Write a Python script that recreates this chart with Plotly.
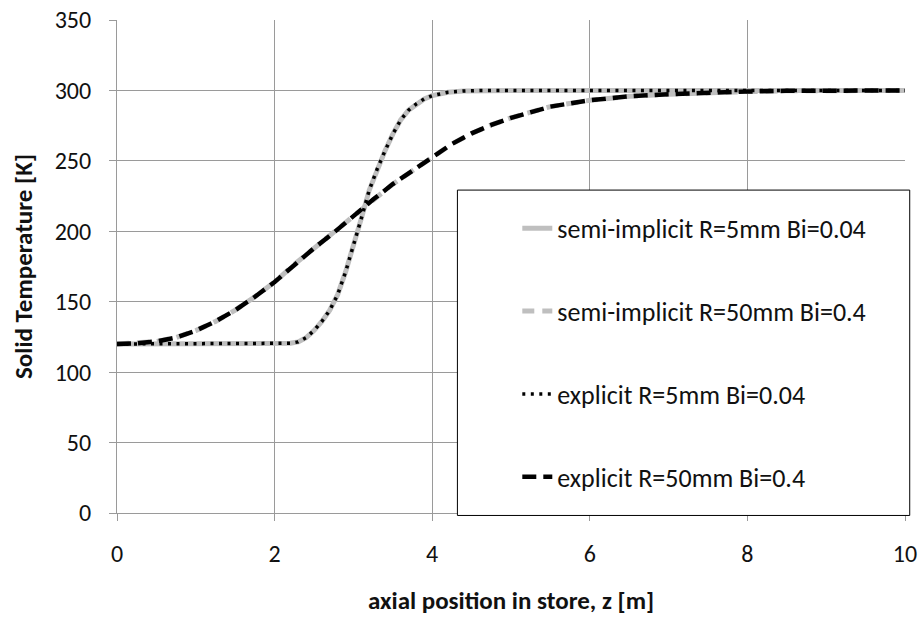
import plotly.graph_objects as go

# ---- data ----
z_r5 = [0, 0.5, 1.0, 1.5, 2.0, 2.2, 2.3, 2.4, 2.5, 2.6, 2.7, 2.8, 2.9, 3.0, 3.1, 3.2,
        3.3, 3.4, 3.5, 3.6, 3.7, 3.8, 3.9, 4.0, 4.2, 4.4, 4.6, 5.0, 6.0, 7.0, 8.0, 9.0, 10.0]
T_semi_r5 = [120, 120, 120, 120, 120, 120.5, 121.5, 124.5, 129.5, 136, 144, 155, 171, 189, 209, 229,
             244, 257, 269, 279, 286, 290.5, 294, 296.3, 298.7, 299.6, 300, 300, 300, 300, 300, 300, 300]
T_expl_r5 = [120, 120, 120, 120, 120, 120.5, 121.5, 124.5, 129.5, 136, 144, 155, 171, 189, 209, 229,
             244, 257, 269, 279, 286, 290.5, 294, 296.3, 298.7, 299.6, 300, 300, 300, 300, 300, 300, 300]

z_r50 = [0, 0.25, 0.5, 0.75, 1.0, 1.25, 1.5, 1.75, 2.0, 2.25, 2.5, 2.75, 3.0, 3.25, 3.5, 3.75,
         4.0, 4.25, 4.5, 4.75, 5.0, 5.5, 6.0, 6.5, 7.0, 7.5, 8.0, 8.5, 9.0, 10.0]
T_semi_r50 = [120, 120.5, 121.8, 124.5, 129.5, 136, 144, 153.5, 164, 176.5, 188, 199, 211, 222.5, 233.5, 243,
              252.5, 262, 269.5, 275.5, 280.5, 288.5, 293, 295.8, 297.3, 298.4, 299.2, 299.7, 300, 300]
T_expl_r50 = [120, 120.5, 121.8, 124.5, 129.5, 136, 144, 153.5, 164, 176.5, 188, 199, 211, 222.5, 233.5, 243,
              252.5, 262, 269.5, 275.5, 280.5, 288.5, 293, 295.8, 297.3, 298.4, 299.2, 299.7, 300, 300]

names = ["semi-implicit R=5mm Bi=0.04", "semi-implicit R=50mm Bi=0.4",
         "explicit R=5mm Bi=0.04", "explicit R=50mm Bi=0.4"]

x_ticks = [0, 2, 4, 6, 8, 10]
y_ticks = [0, 50, 100, 150, 200, 250, 300, 350]

FONT = "Carlito, Lato, sans-serif"
GRAY = "#bfbfbf"
GRID = "#9a9a9a"

fig = go.Figure()
fig.add_trace(go.Scatter(x=z_r5, y=T_semi_r5, mode="lines", name=names[0], legendgroup="a",
                         line=dict(color=GRAY, width=5)))
fig.add_trace(go.Scatter(x=z_r50, y=T_semi_r50, mode="lines", name=names[1], legendgroup="b",
                         line=dict(color=GRAY, width=5, dash="12px,8px")))
fig.add_trace(go.Scatter(x=z_r5, y=T_expl_r5, mode="lines", name=names[2], legendgroup="c",
                         line=dict(color="black", width=3.5, dash="3px,5.5px")))
fig.add_trace(go.Scatter(x=z_r50, y=T_expl_r50, mode="lines", name=names[3], legendgroup="d",
                         line=dict(color="black", width=4.5, dash="14px,7px")))

fig.update_layout(
    width=921, height=619,
    margin=dict(l=117, r=16, t=20, b=106, autoexpand=False),
    paper_bgcolor="white", plot_bgcolor="white",
    font=dict(family=FONT, size=24, color="#111111"),
    showlegend=True,
    legend=dict(x=0.508, y=0.625, xanchor="left", yanchor="top",
                bgcolor="rgba(0,0,0,0)", borderwidth=0,
                tracegroupgap=46, traceorder="grouped",
                font=dict(family=FONT, size=26, color="#111111")),
    shapes=[dict(type="rect", xref="paper", yref="paper", x0=0.432, x1=1.006, y0=-0.005, y1=0.655,
                 line=dict(color="black", width=1), fillcolor="white", layer="above")],
)
fig.update_xaxes(range=[0, 10], tickvals=x_ticks, showgrid=True, gridcolor=GRID, gridwidth=1,
                 showline=True, linecolor=GRID, linewidth=1, ticks="outside", ticklen=7, tickcolor=GRID,
                 ticklabelstandoff=12, zeroline=False,
                 title=dict(text="<b>axial position in store, z [m]</b>", standoff=24,
                            font=dict(family=FONT, size=25)))
fig.update_yaxes(range=[0, 350], tickvals=y_ticks, showgrid=True, gridcolor=GRID, gridwidth=1,
                 showline=True, linecolor=GRID, linewidth=1, ticks="outside", ticklen=7, tickcolor=GRID,
                 ticklabelstandoff=13, zeroline=False,
                 title=dict(text="<b>Solid Temperature [K]</b>", standoff=14,
                            font=dict(family=FONT, size=25)))

fig.write_html("out.html")
